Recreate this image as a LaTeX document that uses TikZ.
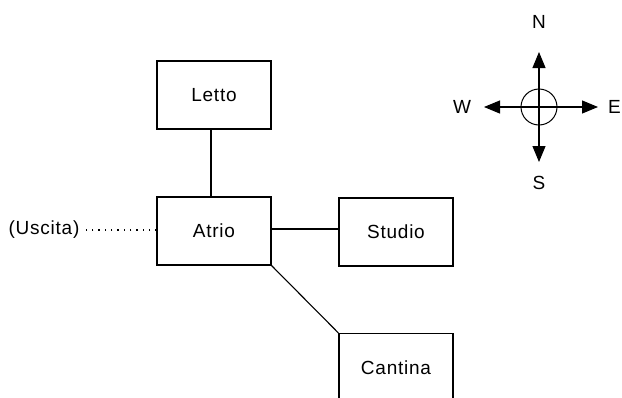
\documentclass[tikz,border=0pt]{standalone}
\usepackage{fontspec}
\setmainfont{Liberation Sans}[LetterSpace=4]
\usetikzlibrary{arrows.meta}
\begin{document}
\begin{tikzpicture}[x=1pt,y=-1pt,
  room/.style={draw, line width=1.1pt, minimum width=114pt, minimum height=68pt, inner sep=0pt, font=\fontsize{19}{21}\selectfont},
  link/.style={line width=1.1pt},
  lbl/.style={inner sep=0pt, font=\fontsize{19}{21}\selectfont},
  comp/.style={line width=1.1pt, -{Triangle[length=16pt,width=13pt]}}]
\useasboundingbox[fill=white] (0,0) rectangle (622,397);
\node[room] (letto) at (214,95) {Letto};
\node[room] (atrio) at (214,231) {Atrio};
\node[room] (studio) at (396,232) {Studio};
\node[room, anchor=north] (cantina) at (396,333) {Cantina};
\node[lbl] (uscita) at (44,230) {(Uscita)};
\coordinate (uend) at (84,230);
\draw[link] (letto.south -| 211,0) -- (atrio.north -| 211,0);
\draw[link] (atrio.east |- 0,229) -- (studio.west |- 0,229);
\draw[link] (atrio.south east) -- (cantina.north west);
\draw[line width=1.2pt, dash pattern=on 1.3pt off 5pt] (atrio.west |- 0,230) -- (uend);
% compass
\coordinate (c) at (539,107);
\coordinate (ntip) at (539,52);
\coordinate (stip) at (539,162);
\coordinate (wtip) at (484,107);
\coordinate (etip) at (598,107);
\draw[line width=1pt] (c) circle (18pt);
\draw[comp] (c) -- (ntip);
\draw[comp] (c) -- (stip);
\draw[comp] (c) -- (wtip);
\draw[comp] (c) -- (etip);
\node[lbl] (N) at (539,22) {N};
\node[lbl] (S) at (539,183) {S};
\node[lbl] (W) at (462,107) {W};
\node[lbl, anchor=east] (E) at (621,107) {E};
\end{tikzpicture}
\end{document}
